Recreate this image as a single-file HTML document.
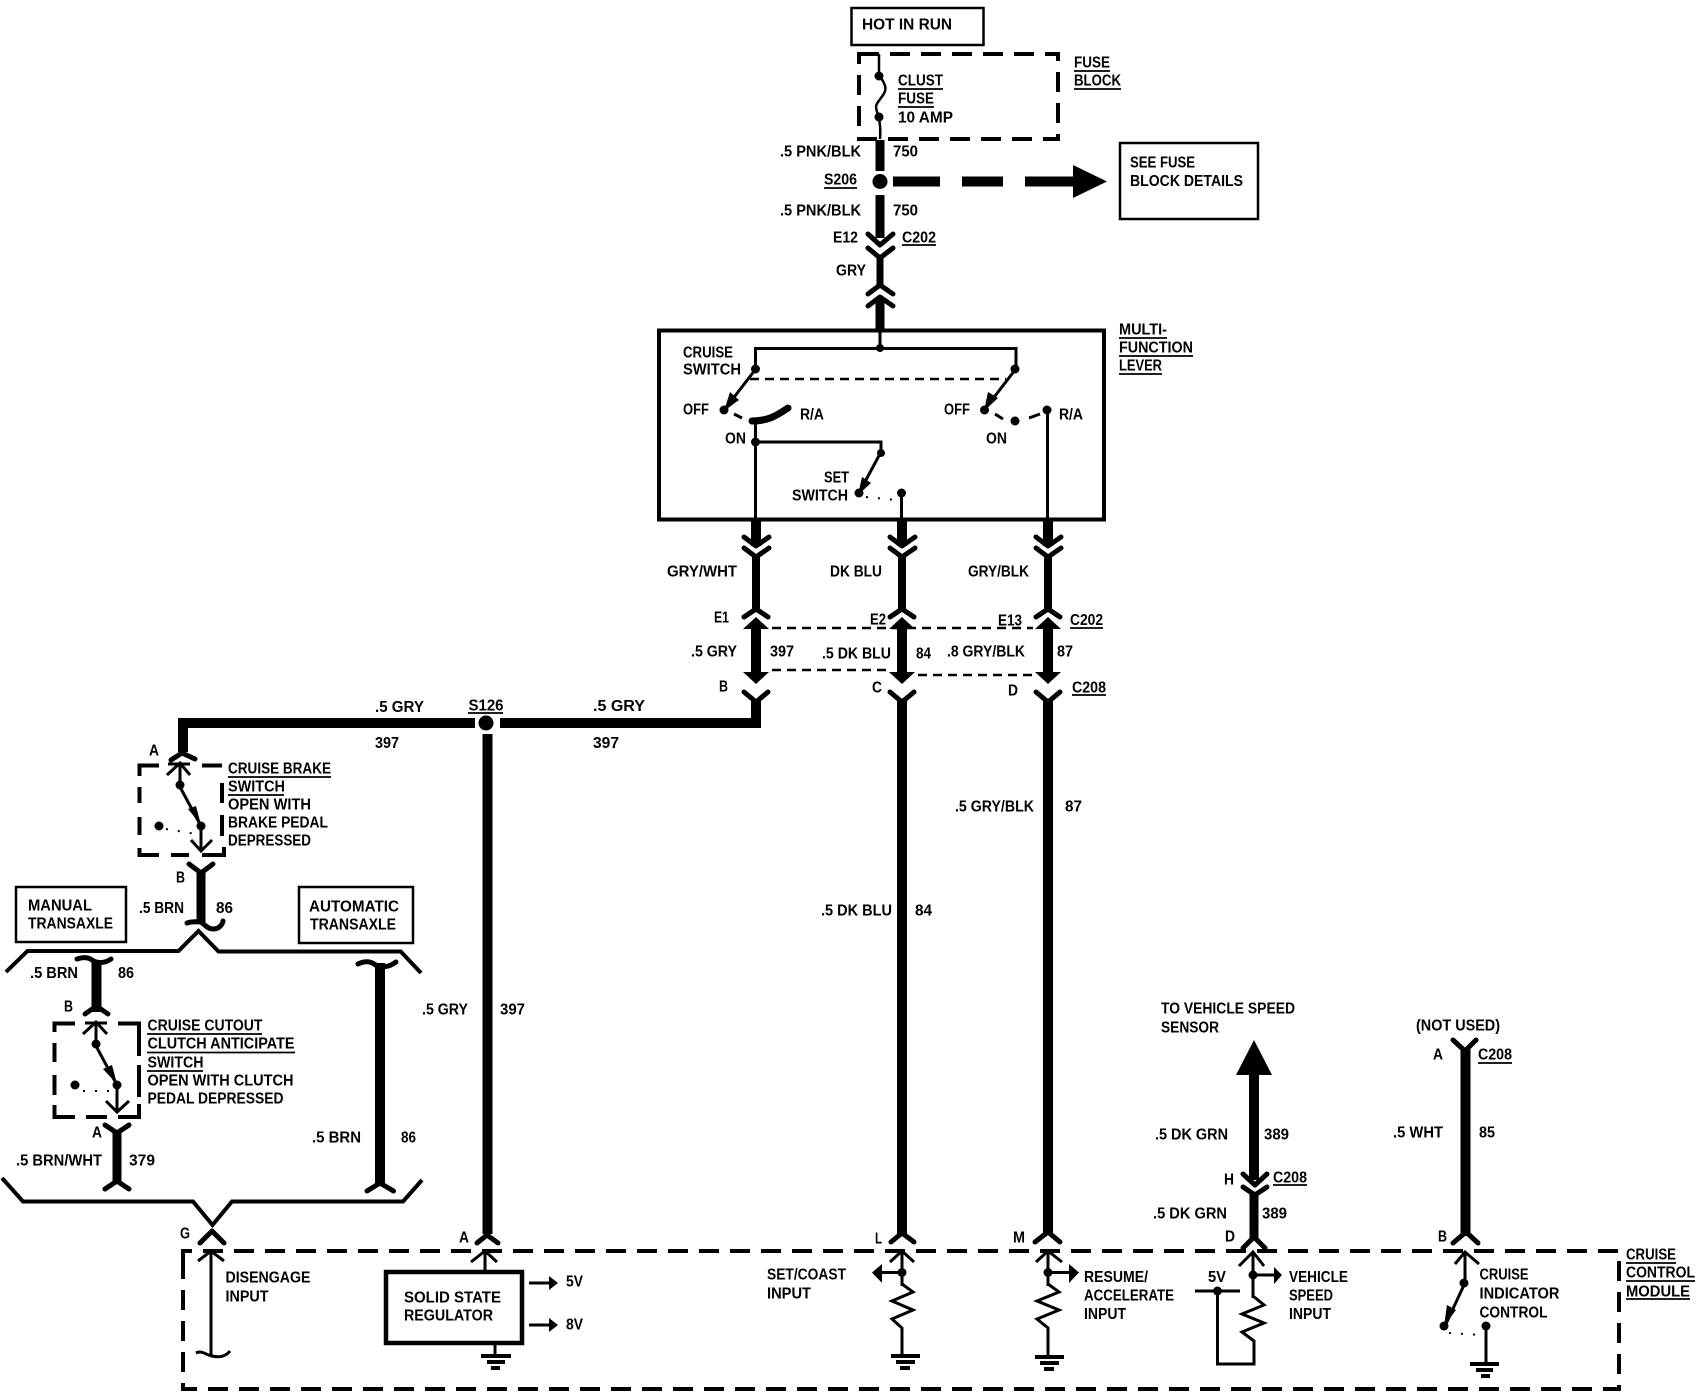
<!DOCTYPE html>
<html><head><meta charset="utf-8"><style>
html,body{margin:0;padding:0;background:#fff}
svg{display:block}
text{font-family:"Liberation Sans",sans-serif;font-weight:bold;font-size:15.5px;fill:#000}
.w{stroke:#000;fill:none;stroke-width:10}
.c{stroke:#000;fill:none;stroke-width:5;stroke-linecap:round;stroke-linejoin:round}
.t{stroke:#000;fill:none;stroke-width:3}
.g{stroke:#000;fill:none;stroke-width:4}
.b{stroke:#000;fill:none;stroke-width:4}
.d{stroke:#000;fill:none;stroke-width:4;stroke-dasharray:20 11}
.n{stroke:#000;fill:none;stroke-width:2.5;stroke-dasharray:9 6}
.o{stroke:#000;fill:none;stroke-width:2;stroke-dasharray:2 10}
.u{stroke:#000;stroke-width:1.8}
</style></head><body>
<svg width="1696" height="1392" viewBox="0 0 1696 1392" xmlns="http://www.w3.org/2000/svg">
<rect width="1696" height="1392" fill="#fff"/>

<!-- top -->
<rect x="851.5" y="8" width="132" height="37" class="b" style="stroke-width:2.5"/>
<rect x="859" y="54" width="199" height="85" class="d"/>
<path class="t" style="stroke-width:2.5" d="M879 54V75C890 90 885 92 878 102C872 110 882 112 880 139"/>
<circle cx="879" cy="76" r="4.5"/><circle cx="879" cy="117" r="4.5"/>
<path class="w" style="stroke-width:9" d="M880 140V171M880 195V238"/>
<circle cx="880" cy="181.5" r="7.5"/>
<path class="w" d="M893 181.5H940M962 181.5H1003M1025 181.5H1075"/>
<polygon points="1073,165 1107,181.5 1073,198"/>
<rect x="1120" y="143" width="138" height="76" class="b" style="stroke-width:2.5"/>
<path class="c" d="M868 234L880 245L893 234M868 248L880 258L893 248"/>
<path class="w" style="stroke-width:7" d="M880 255V287"/>
<path class="c" d="M868 294L880 285L893 294M868 306L880 297L893 306"/>
<path class="w" style="stroke-width:9" d="M880 300V330"/>

<!-- multi-function -->
<rect x="659" y="330.500" width="445" height="189" class="b" style="stroke-width:4"/>
<path class="t" d="M880 330V348.500M755.500 368V348.500H1016V368"/>
<circle cx="880" cy="348" r="4"/><circle cx="755.500" cy="369" r="4.500"/><circle cx="1015" cy="369" r="4.500"/>
<path class="n" d="M750 379H1006"/>
<path class="t" d="M755 370L725 409M1015 370L985 409"/>
<polygon points="724,411 730,392 739,400"/><polygon points="984,411 988,392 998,398"/>
<circle cx="724" cy="410" r="4.500"/><circle cx="984.500" cy="410" r="4.500"/>
<path class="t" d="M734 414L742 418M995 414L1003 419M1029 418L1040 414"/>
<path d="M752 421C768 421 776 416 788 408" stroke="#000" stroke-width="7" fill="none" stroke-linecap="round"/>
<path class="t" d="M755.500 421V520M755.500 442H881V452L860 491"/>
<circle cx="755.500" cy="442" r="4.500"/><circle cx="881" cy="453" r="4"/><circle cx="859" cy="493" r="4.500"/><circle cx="901.500" cy="493" r="4.500"/>
<polygon points="858,495 862,477 871,483"/>
<path class="o" d="M866 497L896 500"/>
<circle cx="1015" cy="421" r="4.500"/><circle cx="1047" cy="410" r="4.500"/>
<path class="t" d="M901.500 493V520M1047.500 410V520"/>

<!-- triple connectors -->
<path class="w" d="M756 520V546M902 520V546M1048 520V546"/>
<path class="c" d="M744 537L756 546L769 537M744 548L756 557L769 548M890 537L902 546L915 537M890 548L902 557L915 548M1036 537L1048 546L1061 537M1036 548L1048 557L1061 548"/>
<path class="w" style="stroke-width:8" d="M756 555V610M902 555V610M1048 555V610"/>
<path class="c" d="M744 617L756 609L768 617M890 617L902 609L914 617M1036 617L1048 609L1060 617"/>
<polygon points="756,617 769,629 743,629"/><polygon points="902,617 915,629 889,629"/><polygon points="1048,617 1061,629 1035,629"/>
<path class="w" d="M756 625V675M902 625V675M1048 625V675"/>
<polygon points="743,672 769,672 756,684"/><polygon points="889,672 915,672 902,684"/><polygon points="1035,672 1061,672 1048,684"/>
<path class="c" d="M744 692L756 702L768 692M890 692L902 702L914 692M1036 692L1048 702L1060 692"/>
<path class="n" d="M772 628H1033M772 670H890M918 675H1037"/>
<path class="w" d="M756 700V723H500M475 723H183V752M902 700V1234M1048 700V1234"/>
<circle cx="486" cy="723" r="7.500"/>
<path class="w" d="M487.500 734V1234"/>

<!-- brake switch -->
<path class="c" d="M171 760L182 753L195 759"/>
<path class="b" d="M159 765.500H139.500V776M139.500 787V803M139.500 817V835M139.500 848V855H159M171 855H189M202 855H224V847M222 836V815M222 783V803M222 765.500H202"/>
<path class="t" d="M168 764H190M180 764V785M167 775L180 763L190 775M180 787L201 826M201 826V851M191 840L201 851L212 840"/>
<circle cx="180" cy="785" r="4.500"/><circle cx="201" cy="826" r="4.500"/><circle cx="159" cy="826" r="4.500"/>
<polygon points="201,825 188,809 196,806"/>
<path class="o" d="M166 829L196 834"/>
<path class="c" d="M189 864L201 873L213 864"/>
<path class="w" style="stroke-width:9" d="M201 870V923"/>
<path class="c" d="M187 923C193 921 197 922 201 922C205 925 208 929 213 929C218 929 222 926 223 921"/>

<rect x="16" y="887" width="110" height="55" class="b" style="stroke-width:2.5"/>
<rect x="299" y="887" width="114" height="56" class="b" style="stroke-width:2.5"/>
<path class="b" d="M6 972L27.500 951H178.500L198.500 931L218.500 951.500H400.700L421 973"/>

<!-- manual -->
<path class="c" d="M77 959C83 957 88 957 92 960C96 963 104 964 111 959"/>
<path class="w" d="M96.500 960V1012"/>
<path class="c" d="M85 1014L96.500 1006L108 1014"/>
<path class="b" d="M75 1023.500H54.500V1032M54.500 1043V1062M54.500 1075V1095M54.500 1105V1117H75M86 1117H107M118 1117H139V1104M139 1097V1065M139 1056V1023.500H118"/>
<path class="t" d="M85 1023H107M96 1023V1044M83 1034L96 1022L107 1034M96 1046L117 1085M117 1085V1112M106 1101L117 1112L129 1101"/>
<circle cx="96" cy="1044" r="4.500"/><circle cx="117" cy="1085" r="4.500"/><circle cx="75" cy="1085" r="4.500"/>
<polygon points="117,1084 103,1069 112,1065"/>
<path class="o" d="M83 1091L110 1091"/>
<path class="c" d="M105 1125L117 1133L129 1125"/>
<path class="w" style="stroke-width:9" d="M117 1131V1183"/>
<path class="c" d="M105 1189L117 1181L129 1189"/>

<!-- automatic -->
<path class="c" d="M358 964C364 961 370 961 374 964C380 968 388 968 396 962"/>
<path class="w" d="M380 963V1185"/>
<path class="c" d="M367 1191L380 1183L393.500 1191"/>
<path class="b" d="M2 1178L23 1201.500H193L212.500 1225L232 1201.500H403L422 1180"/>

<!-- module -->
<path class="d" d="M183 1262V1251H1619V1389H183V1262"/>

<!-- G disengage -->
<path class="c" d="M200 1243L212 1231L224 1243"/>
<path class="t" d="M211 1252V1355M198 1261L211 1251L224 1261M196 1353C202 1350 206 1355 212 1356C220 1358 226 1356 230 1351"/>

<!-- A regulator -->
<path class="c" d="M477 1243L487 1235L498 1243"/>
<path class="t" d="M485 1252V1271M471 1262L485 1251L497 1262"/>
<rect x="386" y="1272" width="136" height="71" class="b" style="stroke-width:4.500"/>
<path class="t" d="M529 1283H550M529 1325H550"/>
<polygon points="549,1276 558,1283 549,1290"/><polygon points="549,1318 558,1325 549,1332"/>
<path class="t" d="M495 1344V1357"/><path class="g" d="M481 1356H511M487 1362H505M491 1368H500"/>

<!-- L -->
<path class="c" d="M891 1242L902 1233L914 1242"/>
<path class="t" d="M902 1252V1286M890 1262L902 1251L914 1262M882 1272.500H902"/>
<polygon points="872,1272.500 882,1264 882,1283"/>
<circle cx="902" cy="1272.500" r="4.500"/>
<path class="t" d="M902 1284L913 1292L892 1301L913 1310L892 1319L902 1328V1356"/><path class="g" d="M891 1356H920M896 1362H915M900 1368H910"/>
<!-- M -->
<path class="c" d="M1035 1242L1048 1232L1060 1242"/>
<path class="t" d="M1048 1252V1286M1036 1262L1048 1251L1062 1262M1048 1272.500H1069"/>
<polygon points="1069,1264 1079,1272.500 1069,1283"/>
<circle cx="1048" cy="1272.500" r="4.500"/>
<path class="t" d="M1048 1284L1059 1292L1037 1301L1059 1310L1037 1319L1048 1328V1357"/><path class="g" d="M1035 1357H1064M1040 1363H1059M1044 1369H1054"/>
<!-- D -->
<polygon points="1254,1040 1272,1075 1236,1075"/>
<path class="w" d="M1254 1072V1180"/>
<path class="c" d="M1243 1174L1255 1185L1267 1174M1243 1187L1255 1195L1267 1187"/>
<path class="w" style="stroke-width:9" d="M1254 1192V1240"/>
<path class="c" d="M1243 1248L1254 1237L1265 1248"/>
<path class="t" d="M1253 1253V1298M1239 1266L1253 1252L1264 1266M1253 1275H1274"/>
<polygon points="1274,1267 1282,1275 1274,1284"/>
<circle cx="1253" cy="1275" r="4.500"/>
<path class="t" d="M1253 1296L1264 1305L1242 1314L1264 1323L1242 1332L1254 1341V1364H1217.500V1291M1195 1291H1240"/>
<circle cx="1217.500" cy="1291" r="4.500"/>
<!-- B -->
<path class="c" d="M1453 1040L1465 1051L1476 1040"/>
<path class="w" d="M1465.500 1048V1236"/>
<path class="c" d="M1453 1243L1466 1232L1478 1243"/>
<path class="t" d="M1465 1252V1283M1455 1264L1465 1252L1479 1264M1464 1285L1445 1326M1486 1327V1364"/><path class="g" d="M1470 1364H1499M1476 1370H1493M1481 1376H1490"/>
<circle cx="1464" cy="1283" r="4.500"/><circle cx="1444" cy="1326" r="4.500"/><circle cx="1486" cy="1326" r="4.500"/>
<polygon points="1444,1326 1447,1305 1456,1310"/>
<path class="o" d="M1449 1333L1482 1335"/>

<!-- underlines -->
<g class="u">
<line x1="1074" y1="71" x2="1110" y2="71"/><line x1="1074" y1="89" x2="1121" y2="89"/>
<line x1="898" y1="89" x2="943" y2="89"/><line x1="898" y1="107" x2="934" y2="107"/>
<line x1="824" y1="188" x2="857" y2="188"/><line x1="902" y1="245" x2="936" y2="245"/>
<line x1="1119" y1="338" x2="1167" y2="338"/><line x1="1119" y1="356" x2="1193" y2="356"/><line x1="1119" y1="374" x2="1162" y2="374"/>
<line x1="1070" y1="628" x2="1103" y2="628"/><line x1="1072" y1="695" x2="1106" y2="695"/>
<line x1="468" y1="713" x2="503" y2="713"/>
<line x1="228" y1="777" x2="331" y2="777"/><line x1="228" y1="795" x2="284" y2="795"/>
<line x1="147" y1="1034" x2="262" y2="1034"/><line x1="147" y1="1052.500" x2="295" y2="1052.500"/><line x1="147" y1="1071" x2="203" y2="1071"/>
<line x1="1273" y1="1185" x2="1307" y2="1185"/><line x1="1478" y1="1063" x2="1512" y2="1063"/>
<line x1="1626" y1="1263" x2="1676" y2="1263"/><line x1="1626" y1="1281" x2="1695" y2="1281"/><line x1="1626" y1="1299" x2="1690" y2="1299"/>
</g>

<!-- text -->
<g transform="translate(0,-1)">
<text x="862" y="30.500" textLength="90" lengthAdjust="spacingAndGlyphs">HOT IN  RUN</text>
<text x="1074" y="68.500" textLength="36" lengthAdjust="spacingAndGlyphs">FUSE</text>
<text x="1074" y="86.500" textLength="47" lengthAdjust="spacingAndGlyphs">BLOCK</text>
<text x="898" y="86.500" textLength="45" lengthAdjust="spacingAndGlyphs">CLUST</text>
<text x="898" y="104.500" textLength="36" lengthAdjust="spacingAndGlyphs">FUSE</text>
<text x="898" y="123.500" textLength="55" lengthAdjust="spacingAndGlyphs">10 AMP</text>
<text x="780" y="157.500" textLength="81" lengthAdjust="spacingAndGlyphs">.5 PNK/BLK</text>
<text x="893" y="157.500" textLength="25" lengthAdjust="spacingAndGlyphs">750</text>
<text x="824" y="185.500" textLength="33" lengthAdjust="spacingAndGlyphs">S206</text>
<text x="780" y="216.500" textLength="81" lengthAdjust="spacingAndGlyphs">.5 PNK/BLK</text>
<text x="893" y="216.500" textLength="25" lengthAdjust="spacingAndGlyphs">750</text>
<text x="833" y="243.500" textLength="25" lengthAdjust="spacingAndGlyphs">E12</text>
<text x="902" y="243.500" textLength="34" lengthAdjust="spacingAndGlyphs">C202</text>
<text x="836" y="276.500" textLength="30" lengthAdjust="spacingAndGlyphs">GRY</text>
<text x="1130" y="168.500" textLength="65" lengthAdjust="spacingAndGlyphs">SEE FUSE</text>
<text x="1130" y="187" textLength="113" lengthAdjust="spacingAndGlyphs">BLOCK DETAILS</text>
<text x="1119" y="335.500" textLength="48" lengthAdjust="spacingAndGlyphs">MULTI-</text>
<text x="1119" y="353.500" textLength="74" lengthAdjust="spacingAndGlyphs">FUNCTION</text>
<text x="1119" y="371.500" textLength="43" lengthAdjust="spacingAndGlyphs">LEVER</text>
<text x="683" y="358.500" textLength="50" lengthAdjust="spacingAndGlyphs">CRUISE</text>
<text x="683" y="375.500" textLength="58" lengthAdjust="spacingAndGlyphs">SWITCH</text>
<text x="683" y="415.500" textLength="26" lengthAdjust="spacingAndGlyphs">OFF</text>
<text x="800" y="420.500" textLength="24" lengthAdjust="spacingAndGlyphs">R/A</text>
<text x="725" y="444.500" textLength="21" lengthAdjust="spacingAndGlyphs">ON</text>
<text x="824" y="483.500" textLength="25" lengthAdjust="spacingAndGlyphs">SET</text>
<text x="792" y="501.500" textLength="56" lengthAdjust="spacingAndGlyphs">SWITCH</text>
<text x="944" y="415.500" textLength="26" lengthAdjust="spacingAndGlyphs">OFF</text>
<text x="986" y="444.500" textLength="21" lengthAdjust="spacingAndGlyphs">ON</text>
<text x="1059" y="420.500" textLength="24" lengthAdjust="spacingAndGlyphs">R/A</text>
<text x="667" y="577.500" textLength="70" lengthAdjust="spacingAndGlyphs">GRY/WHT</text>
<text x="830" y="577.500" textLength="52" lengthAdjust="spacingAndGlyphs">DK BLU</text>
<text x="968" y="577.500" textLength="61" lengthAdjust="spacingAndGlyphs">GRY/BLK</text>
<text x="714" y="623.500" textLength="15" lengthAdjust="spacingAndGlyphs">E1</text>
<text x="870" y="625.500" textLength="16" lengthAdjust="spacingAndGlyphs">E2</text>
<text x="998" y="626.500" textLength="24" lengthAdjust="spacingAndGlyphs">E13</text>
<text x="1070" y="626" textLength="33" lengthAdjust="spacingAndGlyphs">C202</text>
<text x="691" y="657.500" textLength="46" lengthAdjust="spacingAndGlyphs">.5 GRY</text>
<text x="770" y="657.500" textLength="24" lengthAdjust="spacingAndGlyphs">397</text>
<text x="822" y="659.500" textLength="69" lengthAdjust="spacingAndGlyphs">.5 DK BLU</text>
<text x="916" y="659.500" textLength="15" lengthAdjust="spacingAndGlyphs">84</text>
<text x="947" y="657.500" textLength="78" lengthAdjust="spacingAndGlyphs">.8 GRY/BLK</text>
<text x="1057" y="657.500" textLength="16" lengthAdjust="spacingAndGlyphs">87</text>
<text x="719" y="692.500" textLength="9" lengthAdjust="spacingAndGlyphs">B</text>
<text x="872" y="693.500" textLength="10" lengthAdjust="spacingAndGlyphs">C</text>
<text x="1008" y="696.500" textLength="10" lengthAdjust="spacingAndGlyphs">D</text>
<text x="1072" y="693.500" textLength="34" lengthAdjust="spacingAndGlyphs">C208</text>
<text x="375" y="713" textLength="49" lengthAdjust="spacingAndGlyphs">.5  GRY</text>
<text x="375" y="749" textLength="24" lengthAdjust="spacingAndGlyphs">397</text>
<text x="468.500" y="711.500" textLength="35" lengthAdjust="spacingAndGlyphs">S126</text>
<text x="593" y="712" textLength="52" lengthAdjust="spacingAndGlyphs">.5  GRY</text>
<text x="593" y="749" textLength="26" lengthAdjust="spacingAndGlyphs">397</text>
<text x="149" y="756.500" textLength="10" lengthAdjust="spacingAndGlyphs">A</text>
<text x="228" y="774.500" textLength="103" lengthAdjust="spacingAndGlyphs">CRUISE BRAKE</text>
<text x="228" y="792.500" textLength="57" lengthAdjust="spacingAndGlyphs">SWITCH</text>
<text x="228" y="810.500" textLength="83" lengthAdjust="spacingAndGlyphs">OPEN WITH</text>
<text x="228" y="828.500" textLength="100" lengthAdjust="spacingAndGlyphs">BRAKE PEDAL</text>
<text x="228" y="846.500" textLength="83" lengthAdjust="spacingAndGlyphs">DEPRESSED</text>
<text x="176" y="883.500" textLength="9" lengthAdjust="spacingAndGlyphs">B</text>
<text x="28" y="911.500" textLength="64" lengthAdjust="spacingAndGlyphs">MANUAL</text>
<text x="28" y="929.500" textLength="85" lengthAdjust="spacingAndGlyphs">TRANSAXLE</text>
<text x="309" y="912.500" textLength="90" lengthAdjust="spacingAndGlyphs">AUTOMATIC</text>
<text x="310" y="930.500" textLength="86" lengthAdjust="spacingAndGlyphs">TRANSAXLE</text>
<text x="139" y="914" textLength="45" lengthAdjust="spacingAndGlyphs">.5 BRN</text>
<text x="216" y="914" textLength="17" lengthAdjust="spacingAndGlyphs">86</text>
<text x="30" y="979" textLength="48" lengthAdjust="spacingAndGlyphs">.5  BRN</text>
<text x="118" y="979" textLength="16" lengthAdjust="spacingAndGlyphs">86</text>
<text x="64" y="1012.500" textLength="9" lengthAdjust="spacingAndGlyphs">B</text>
<text x="147.500" y="1031.500" textLength="115" lengthAdjust="spacingAndGlyphs">CRUISE CUTOUT</text>
<text x="147.500" y="1049.500" textLength="147" lengthAdjust="spacingAndGlyphs">CLUTCH ANTICIPATE</text>
<text x="147.500" y="1068.500" textLength="56" lengthAdjust="spacingAndGlyphs">SWITCH</text>
<text x="147.500" y="1086.500" textLength="146" lengthAdjust="spacingAndGlyphs">OPEN WITH CLUTCH</text>
<text x="147.500" y="1104.500" textLength="136" lengthAdjust="spacingAndGlyphs">PEDAL DEPRESSED</text>
<text x="422" y="1015.500" textLength="46" lengthAdjust="spacingAndGlyphs">.5 GRY</text>
<text x="500" y="1015.500" textLength="25" lengthAdjust="spacingAndGlyphs">397</text>
<text x="92" y="1138.500" textLength="10" lengthAdjust="spacingAndGlyphs">A</text>
<text x="312" y="1143.500" textLength="49" lengthAdjust="spacingAndGlyphs">.5  BRN</text>
<text x="401" y="1143.500" textLength="15" lengthAdjust="spacingAndGlyphs">86</text>
<text x="16" y="1166.500" textLength="86" lengthAdjust="spacingAndGlyphs">.5 BRN/WHT</text>
<text x="129" y="1166.500" textLength="26" lengthAdjust="spacingAndGlyphs">379</text>
<text x="180" y="1239.500" textLength="10" lengthAdjust="spacingAndGlyphs">G</text>
<text x="459" y="1243.500" textLength="10" lengthAdjust="spacingAndGlyphs">A</text>
<text x="225.500" y="1283.500" textLength="85" lengthAdjust="spacingAndGlyphs">DISENGAGE</text>
<text x="225.500" y="1302.500" textLength="43" lengthAdjust="spacingAndGlyphs">INPUT</text>
<text x="404" y="1303.500" textLength="97" lengthAdjust="spacingAndGlyphs">SOLID STATE</text>
<text x="404" y="1321.500" textLength="89" lengthAdjust="spacingAndGlyphs">REGULATOR</text>
<text x="566" y="1287.500" textLength="17" lengthAdjust="spacingAndGlyphs">5V</text>
<text x="566" y="1330.500" textLength="17" lengthAdjust="spacingAndGlyphs">8V</text>
<text x="767" y="1280.500" textLength="79" lengthAdjust="spacingAndGlyphs">SET/COAST</text>
<text x="767" y="1299.500" textLength="44" lengthAdjust="spacingAndGlyphs">INPUT</text>
<text x="875" y="1244.500" textLength="7" lengthAdjust="spacingAndGlyphs">L</text>
<text x="821" y="916.500" textLength="71" lengthAdjust="spacingAndGlyphs">.5 DK BLU</text>
<text x="915" y="916.500" textLength="17" lengthAdjust="spacingAndGlyphs">84</text>
<text x="955" y="812.500" textLength="79" lengthAdjust="spacingAndGlyphs">.5 GRY/BLK</text>
<text x="1065" y="812.500" textLength="17" lengthAdjust="spacingAndGlyphs">87</text>
<text x="1013" y="1243.500" textLength="12" lengthAdjust="spacingAndGlyphs">M</text>
<text x="1084" y="1283" textLength="64" lengthAdjust="spacingAndGlyphs">RESUME/</text>
<text x="1084" y="1301.500" textLength="90" lengthAdjust="spacingAndGlyphs">ACCELERATE</text>
<text x="1084" y="1320" textLength="42" lengthAdjust="spacingAndGlyphs">INPUT</text>
<text x="1161" y="1014.500" textLength="134" lengthAdjust="spacingAndGlyphs">TO VEHICLE SPEED</text>
<text x="1161" y="1033.500" textLength="58" lengthAdjust="spacingAndGlyphs">SENSOR</text>
<text x="1155" y="1140.500" textLength="73" lengthAdjust="spacingAndGlyphs">.5 DK GRN</text>
<text x="1264" y="1140.500" textLength="25" lengthAdjust="spacingAndGlyphs">389</text>
<text x="1224" y="1185.500" textLength="10" lengthAdjust="spacingAndGlyphs">H</text>
<text x="1273" y="1183.500" textLength="34" lengthAdjust="spacingAndGlyphs">C208</text>
<text x="1153" y="1219.500" textLength="74" lengthAdjust="spacingAndGlyphs">.5 DK GRN</text>
<text x="1262" y="1219.500" textLength="25" lengthAdjust="spacingAndGlyphs">389</text>
<text x="1225" y="1242.500" textLength="10" lengthAdjust="spacingAndGlyphs">D</text>
<text x="1208" y="1283" textLength="18" lengthAdjust="spacingAndGlyphs">5V</text>
<text x="1289" y="1283" textLength="59" lengthAdjust="spacingAndGlyphs">VEHICLE</text>
<text x="1289" y="1301.500" textLength="44" lengthAdjust="spacingAndGlyphs">SPEED</text>
<text x="1289" y="1320" textLength="42" lengthAdjust="spacingAndGlyphs">INPUT</text>
<text x="1416" y="1031.500" textLength="84" lengthAdjust="spacingAndGlyphs">(NOT USED)</text>
<text x="1433" y="1060.500" textLength="10" lengthAdjust="spacingAndGlyphs">A</text>
<text x="1478" y="1060.500" textLength="34" lengthAdjust="spacingAndGlyphs">C208</text>
<text x="1393" y="1138.500" textLength="50" lengthAdjust="spacingAndGlyphs">.5 WHT</text>
<text x="1479" y="1138.500" textLength="16" lengthAdjust="spacingAndGlyphs">85</text>
<text x="1438" y="1242.500" textLength="9" lengthAdjust="spacingAndGlyphs">B</text>
<text x="1479.500" y="1280.500" textLength="49" lengthAdjust="spacingAndGlyphs">CRUISE</text>
<text x="1479.500" y="1299.500" textLength="80" lengthAdjust="spacingAndGlyphs">INDICATOR</text>
<text x="1479.500" y="1318.500" textLength="68" lengthAdjust="spacingAndGlyphs">CONTROL</text>
<text x="1626" y="1260.500" textLength="50" lengthAdjust="spacingAndGlyphs">CRUISE</text>
<text x="1626" y="1278.500" textLength="69" lengthAdjust="spacingAndGlyphs">CONTROL</text>
<text x="1626" y="1297.500" textLength="64" lengthAdjust="spacingAndGlyphs">MODULE</text>
</g>
</svg>
</body></html>
